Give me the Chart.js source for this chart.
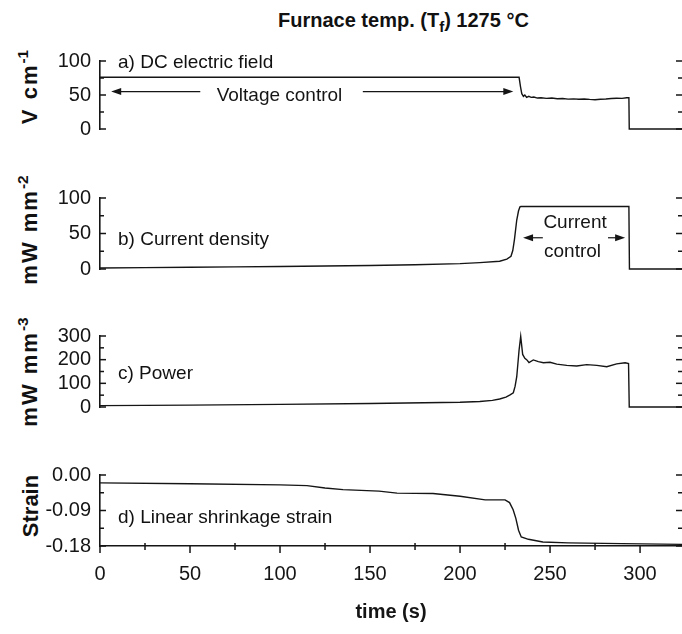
<!DOCTYPE html>
<html lang="en">
<head>
<meta charset="UTF-8">
<title>Furnace temp. 1275 °C</title>
<script src="https://cdn.jsdelivr.net/npm/chart.js@4"></script>
<style>
    body {
        margin: 0;
        background: #fff;
        color: #111;
        font-family: "Liberation Sans", Arial, sans-serif;
        overflow: hidden;
    }
    #wrap { position: relative; width: 682px; height: 634px; overflow: hidden; }
    canvas { position: absolute; left: 0; }
    #title {
        position: absolute; left: 278px; top: 10px;
        font-weight: bold; font-size: 20px; line-height: 1; white-space: nowrap;
    }
    #title sub { font-size: 0.75em; vertical-align: -0.3em; line-height: 0; }
    .ytitle {
        position: absolute; font-weight: bold; font-size: 22px; line-height: 1; white-space: nowrap;
        transform: translate(-50%, -50%) rotate(-90deg);
    }
    .ytitle.unit { letter-spacing: 2px; }
    .ytitle sup { font-size: 0.7em; vertical-align: 0.6em; line-height: 0; letter-spacing: 0; }
    .lbl {
        position: absolute; left: 118px; font-size: 19px; line-height: 1; white-space: nowrap;
        transform: translateY(-50%);
    }
</style>
</head>
<body>
<div id="wrap">
    <div id="title">Furnace temp. (T<sub>f</sub>) 1275 °C</div>

    <div class="ytitle unit" style="left:30px; top:87px;">V cm<sup>-1</sup></div>
    <div class="ytitle unit" style="left:30px; top:230px;">mW mm<sup>-2</sup></div>
    <div class="ytitle unit" style="left:30px; top:372px;">mW mm<sup>-3</sup></div>
    <div class="ytitle" style="left:31px; top:506px;">Strain</div>

    <canvas id="chartA" width="682" height="98" style="top:46px"></canvas>
    <canvas id="chartB" width="682" height="101" style="top:183px"></canvas>
    <canvas id="chartC" width="682" height="101" style="top:321px"></canvas>
    <canvas id="chartD" width="682" height="174" style="top:460px"></canvas>

    <div class="lbl" style="top:61px;">a) DC electric field</div>
    <div class="lbl" style="top:238px;">b) Current density</div>
    <div class="lbl" style="top:372px;">c) Power</div>
    <div class="lbl" style="top:516px;">d) Linear shrinkage strain</div>
</div>

<script>
    // time axis
    const X_MAX = 323.3;
    const xTicks = [0, 50, 100, 150, 200, 250, 300];
    const xMinor = [25, 75, 125, 175, 225, 275, 325];

    // a) DC electric field (V cm-1)
    const timeA = [0, 232.8, 233.6, 234.3, 235.2, 236.0, 237.0, 238.2, 239.5, 241, 243, 245, 248, 251, 254, 257, 260, 263, 266, 269, 272, 275, 278, 281, 284, 287, 290, 292.6, 293.8, 294.0, 323.3];
    const fieldA = [76, 76, 62, 52, 48, 50, 46.5, 48, 46.5, 47, 45.5, 46, 45, 45.5, 44.5, 44.8, 44, 44.3, 43.8, 44.2, 43.5, 43, 43.8, 44.2, 44.8, 45.3, 45, 46, 46, 0, 0];
    const ticksA = [0, 50, 100];
    const minorA = [25, 75];

    // b) Current density
    const timeB = [0, 25, 50, 75, 100, 125, 150, 175, 200, 211, 222, 226, 228.3, 229.3, 230.2, 231.5, 232.5, 233.3, 233.8, 293.8, 294.1, 323.3];
    const currentB = [1.5, 2, 2.5, 3, 3.5, 4.2, 5, 6, 7.5, 9, 11, 14, 18, 26, 41, 69, 82, 87.5, 88, 88, 0, 0];
    const ticksB = [0, 50, 100];
    const minorB = [25, 75];

    // c) Power
    const timeC = [0, 50, 100, 150, 200, 211, 218, 222, 225.5, 227.8, 229.6, 230.6, 231.5, 232.8, 233.7, 234.8, 236, 237, 238.3, 240.7, 243.5, 246.3, 250, 253.7, 259.3, 264.8, 270.4, 276, 281.5, 287, 291.7, 293.6, 294, 323.3];
    const powerC = [6, 8, 11, 15, 20, 23, 28, 34, 42, 51, 60, 88, 128, 241, 298, 222, 206, 200, 188, 199, 192, 187, 189, 181, 176, 173, 179, 176, 170, 182, 187, 184, 0, 0];
    const ticksC = [0, 100, 200, 300];
    const minorC = [50, 150, 250];

    // d) Linear shrinkage strain
    const timeD = [0, 50, 100, 115, 125, 135, 155, 165, 185, 200, 214, 225, 227.5, 229.5, 231, 232.5, 234, 238, 246, 260, 290, 323.3];
    const strainD = [-0.02, -0.022, -0.025, -0.027, -0.033, -0.037, -0.041, -0.046, -0.047, -0.054, -0.063, -0.063, -0.07, -0.088, -0.11, -0.14, -0.157, -0.163, -0.170, -0.172, -0.174, -0.176];
    const ticksD = [-0.18, -0.09, 0];
    const minorD = [-0.135, -0.045];

    // annotations: [tail t, tail y, head t, head y]
    const arrowsA = [[55.7, 55, 6.2, 55], [146, 55, 229.6, 55]];
    const notesA = [['Voltage control', 99.7, 48.6]];
    const arrowsB = [[246, 44, 235, 44], [282.2, 44, 291.7, 44]];
    const notesB = [['Current', 263.9, 65], ['control', 262.5, 24.5]];

    const INK = '#151515';
    const tickFont = { family: '"Liberation Sans", Arial, sans-serif', size: 20 };

    function drawArrow(ctx, x1, y1, x2, y2) {
        const dir = x2 > x1 ? 1 : -1;
        ctx.beginPath();
        ctx.moveTo(x1, y1);
        ctx.lineTo(x2 - dir * 6, y2);
        ctx.stroke();
        ctx.beginPath();
        ctx.moveTo(x2, y2);
        ctx.lineTo(x2 - dir * 10, y2 - 3.5);
        ctx.lineTo(x2 - dir * 10, y2 + 3.5);
        ctx.closePath();
        ctx.fill();
    }

    function makePanel(id, times, values, yMin, yMax, major, minor, fmt, withX, arrows, notes) {
        const decor = {
            id: 'decor',
            afterDraw(chart) {
                const ctx = chart.ctx, a = chart.chartArea;
                const xs = chart.scales.x, ys = chart.scales.y;
                ctx.save();
                ctx.strokeStyle = INK;
                ctx.fillStyle = INK;
                ctx.lineWidth = 1.5;
                const seg = (x1, y1, x2, y2) => { ctx.beginPath(); ctx.moveTo(x1, y1); ctx.lineTo(x2, y2); ctx.stroke(); };
                major.forEach(v => {
                    const p = ys.getPixelForValue(v);
                    seg(a.left, p, a.left + 6, p);
                    seg(a.right, p, a.right - 6, p);
                });
                minor.forEach(v => {
                    const p = ys.getPixelForValue(v);
                    seg(a.left, p, a.left + 4, p);
                    seg(a.right, p, a.right - 4, p);
                });
                if (withX) {
                    xTicks.forEach(v => {
                        const p = xs.getPixelForValue(v);
                        seg(p, a.bottom, p, a.bottom + 7);
                    });
                    xMinor.forEach(v => {
                        const p = xs.getPixelForValue(v);
                        if (p <= a.right) seg(p, a.bottom - 3, p, a.bottom + 4);
                    });
                }
                ctx.lineWidth = 1.2;
                (arrows || []).forEach(r => {
                    drawArrow(ctx, xs.getPixelForValue(r[0]), ys.getPixelForValue(r[1]),
                        xs.getPixelForValue(r[2]), ys.getPixelForValue(r[3]));
                });
                ctx.font = '19px "Liberation Sans", Arial, sans-serif';
                ctx.textAlign = 'center';
                ctx.textBaseline = 'middle';
                (notes || []).forEach(n => {
                    ctx.fillText(n[0], xs.getPixelForValue(n[1]), ys.getPixelForValue(n[2]));
                });
                ctx.restore();
            }
        };

        return new Chart(document.getElementById(id), {
            type: 'line',
            data: {
                datasets: [{
                    data: times.map((t, i) => ({ x: t, y: values[i] })),
                    borderColor: INK,
                    borderWidth: 1.4,
                    pointRadius: 0,
                    tension: 0,
                    fill: false,
                    clip: false
                }]
            },
            options: {
                responsive: false,
                animation: false,
                devicePixelRatio: 1,
                layout: { padding: { top: 15, bottom: withX ? 0 : 15, left: 0, right: 0 } },
                plugins: { legend: { display: false }, tooltip: { enabled: false } },
                scales: {
                    x: {
                        type: 'linear',
                        min: 0,
                        max: X_MAX,
                        display: withX,
                        grid: { display: false, drawTicks: false },
                        border: { display: true, color: INK, width: 1.6 },
                        ticks: { font: tickFont, color: INK, padding: 16, maxRotation: 0, autoSkip: false },
                        afterBuildTicks: s => { s.ticks = xTicks.map(v => ({ value: v })); },
                        afterFit: s => {
                            s.height = withX ? 88 : 0;
                            s.paddingLeft = 0;
                            s.paddingRight = 0;
                        },
                        title: {
                            display: withX,
                            text: 'time (s)',
                            color: INK,
                            font: { family: '"Liberation Sans", Arial, sans-serif', size: 20, weight: 'bold' },
                            padding: { top: 0, bottom: 10 }
                        }
                    },
                    y: {
                        min: yMin,
                        max: yMax,
                        grid: { display: false, drawTicks: false },
                        border: { display: true, color: INK, width: 1.6 },
                        ticks: { font: tickFont, color: INK, padding: 9, autoSkip: false, callback: v => fmt(v) },
                        afterBuildTicks: s => { s.ticks = major.map(v => ({ value: v })); },
                        afterFit: s => {
                            s.width = 100;
                            s.paddingTop = 0;
                            s.paddingBottom = 0;
                        }
                    }
                }
            },
            plugins: [decor]
        });
    }

    const intFmt = v => String(Math.round(v));
    const strainFmt = v => (v === 0 ? '0.00' : v.toFixed(2));

    makePanel('chartA', timeA, fieldA, 0, 100, ticksA, minorA, intFmt, false, arrowsA, notesA);
    makePanel('chartB', timeB, currentB, 0, 100, ticksB, minorB, intFmt, false, arrowsB, notesB);
    makePanel('chartC', timeC, powerC, 0, 300, ticksC, minorC, intFmt, false);
    makePanel('chartD', timeD, strainD, -0.18, 0, ticksD, minorD, strainFmt, true);
</script>
</body>
</html>
